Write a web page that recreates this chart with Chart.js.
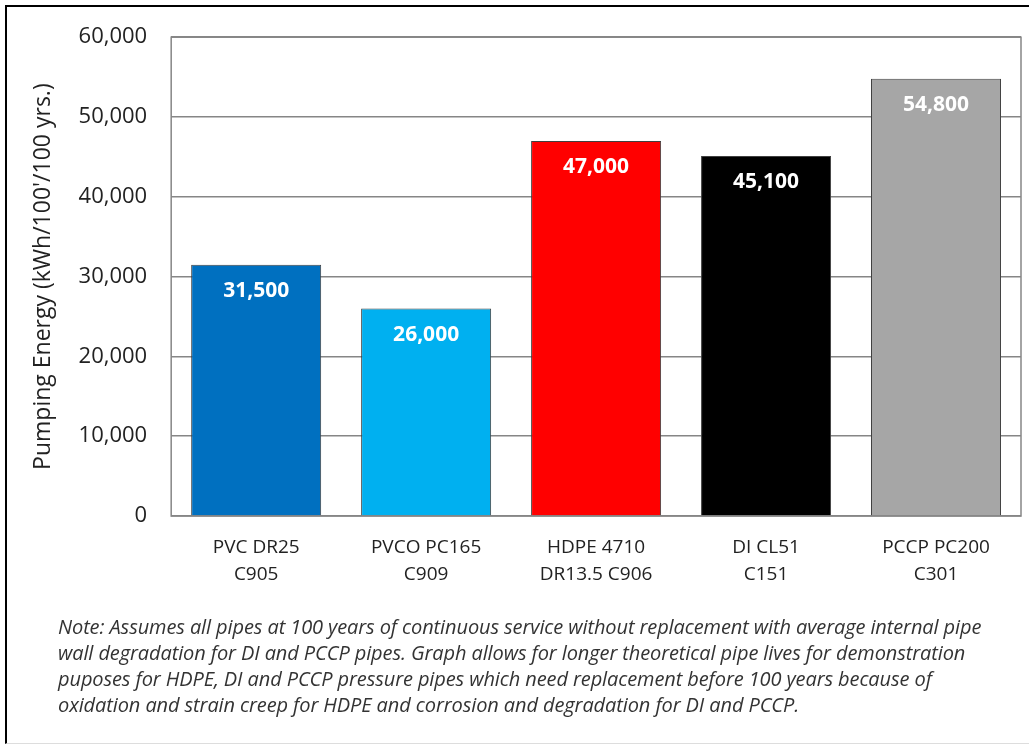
<!DOCTYPE html>
<html>
<head>
<meta charset="utf-8">
<script src="https://cdn.jsdelivr.net/npm/chart.js@4.4.1/dist/chart.umd.min.js"></script>
<style>
  html, body { margin: 0; padding: 0; background: #fff; }
  #frame {
    position: absolute; left: 5px; top: 5px; width: 1030px; height: 736px;
    border-left: 2px solid #000; border-top: 2px solid #000; border-bottom: 1px solid #ddd;
  }
  #wrap { position: absolute; left: 0; top: 0; width: 1029px; height: 616px; }
  #note {
    position: absolute; left: 58px; top: 614px;
    font-family: "Open Sans", sans-serif; font-style: italic; font-size: 20px;
    line-height: 26px; color: #333; letter-spacing: -0.1px; white-space: nowrap;
  }
</style>
</head>
<body>
<div id="frame"></div>
<div id="wrap"><canvas id="pumpChart"></canvas></div>
<div id="note">
Note: Assumes all pipes at 100 years of continuous service without replacement with average internal pipe<br>
wall degradation for DI and PCCP pipes. Graph allows for longer theoretical pipe lives for demonstration<br>
puposes for HDPE, DI and PCCP pressure pipes which need replacement before 100 years because of<br>
oxidation and strain creep for HDPE and corrosion and degradation for DI and PCCP.
</div>
<script>
var pipeLabels = [
  ["PVC DR25", "C905"],
  ["PVCO PC165", "C909"],
  ["HDPE 4710", "DR13.5 C906"],
  ["DI CL51", "C151"],
  ["PCCP PC200", "C301"]
];
var pumpingEnergy = [31500, 26000, 47000, 45100, 54800];
var barColors = ["#0070C0", "#00B0F0", "#FF0000", "#000000", "#A6A6A6"];
var yTicks = [0, 10000, 20000, 30000, 40000, 50000, 60000];

// white value labels near the top of each bar
var valueLabels = {
  id: "valueLabels",
  afterDatasetsDraw: function(chart) {
    var ctx = chart.ctx;
    var meta = chart.getDatasetMeta(0);
    ctx.save();
    ctx.fillStyle = "#fff";
    ctx.font = "bold 21px 'Open Sans', sans-serif";
    ctx.textAlign = "center";
    ctx.textBaseline = "middle";
    meta.data.forEach(function(bar, i) {
      ctx.fillText(pumpingEnergy[i].toLocaleString("en-US"), bar.x, bar.y + 26);
    });
    ctx.restore();
  }
};

// plot area outline
var plotBox = {
  id: "plotBox",
  beforeDatasetsDraw: function(chart) {
    var a = chart.chartArea;
    var ctx = chart.ctx;
    ctx.save();
    ctx.strokeStyle = "#868686";
    ctx.lineWidth = 1.5;
    ctx.strokeRect(a.left, a.top, a.right - a.left, a.bottom - a.top);
    ctx.restore();
  }
};

new Chart(document.getElementById("pumpChart"), {
  type: "bar",
  data: {
    labels: pipeLabels,
    datasets: [{
      data: pumpingEnergy,
      backgroundColor: barColors,
      borderColor: "#404040",
      borderWidth: 1,
      barPercentage: 0.765,
      categoryPercentage: 1
    }]
  },
  options: {
    responsive: true,
    maintainAspectRatio: false,
    animation: false,
    layout: { padding: { left: 30, top: 36, right: 8, bottom: 10 } },
    plugins: {
      legend: { display: false },
      tooltip: { enabled: false }
    },
    scales: {
      x: {
        grid: { display: false, drawTicks: false },
        border: { display: false },
        ticks: {
          color: "#222",
          padding: 18,
          maxRotation: 0,
          font: { family: "'Open Sans', sans-serif", size: 19, lineHeight: 1.42 }
        }
      },
      y: {
        min: 0,
        max: 60000,
        afterBuildTicks: function(axis) {
          axis.ticks = yTicks.map(function(v) { return { value: v }; });
        },
        grid: { color: "#868686", lineWidth: 1.5, drawTicks: false },
        border: { display: false },
        ticks: {
          color: "#222",
          padding: 24,
          font: { family: "'Open Sans', sans-serif", size: 22 },
          callback: function(v) { return v.toLocaleString("en-US"); }
        },
        title: {
          display: true,
          text: "Pumping Energy (kWh/100'/100 yrs.)",
          color: "#222",
          padding: { top: 0, bottom: -3 },
          font: { family: "'Open Sans', sans-serif", size: 23 }
        }
      }
    }
  },
  plugins: [valueLabels, plotBox]
});
</script>
</body>
</html>
